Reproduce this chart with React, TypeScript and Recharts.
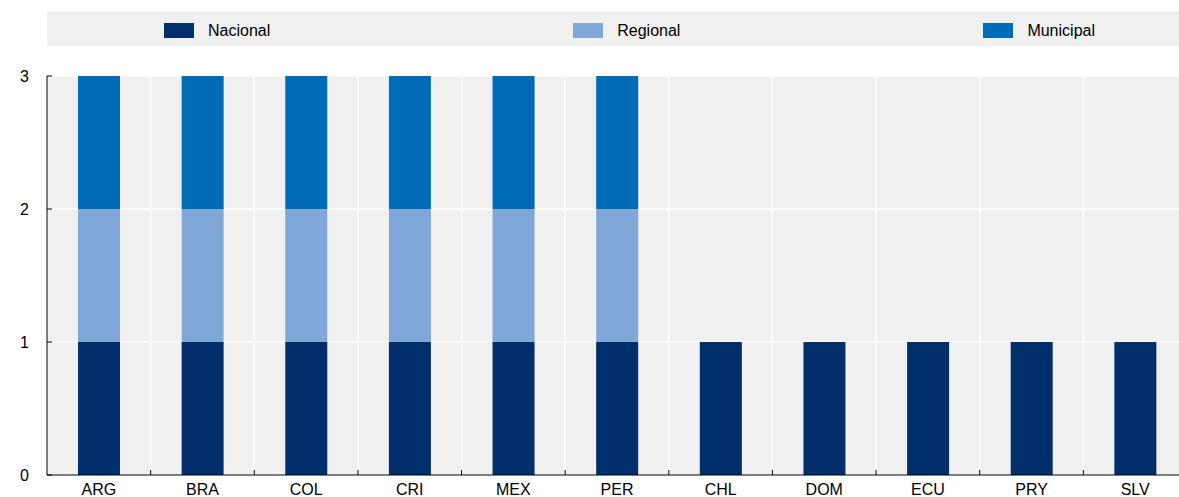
import React from "react";
import {
  BarChart,
  Bar,
  XAxis,
  YAxis,
  CartesianGrid,
  Legend,
  ReferenceLine,
} from "recharts";

const countries = ["ARG", "BRA", "COL", "CRI", "MEX", "PER", "CHL", "DOM", "ECU", "PRY", "SLV"];
const nacional = [1, 1, 1, 1, 1, 1, 1, 1, 1, 1, 1];
const regional = [1, 1, 1, 1, 1, 1, 0, 0, 0, 0, 0];
const municipal = [1, 1, 1, 1, 1, 1, 0, 0, 0, 0, 0];
const yTicks = [0, 1, 2, 3];

const series = [
  { key: "nacional", name: "Nacional", color: "#002F6C" },
  { key: "regional", name: "Regional", color: "#7FA8D9" },
  { key: "municipal", name: "Municipal", color: "#006BB6" },
];

const data = countries.map((c, i) => ({
  country: c,
  nacional: nacional[i],
  regional: regional[i],
  municipal: municipal[i],
}));

const FONT = "'Liberation Sans', Arial, sans-serif";
const TICK_MARGIN = 9;

const LegendBox = () => (
  <div
    style={{
      display: "flex",
      justifyContent: "space-between",
      alignItems: "center",
      height: 35,
      background: "#F0F0F0",
      paddingLeft: 117,
      paddingRight: 91,
      paddingTop: 4,
      boxSizing: "border-box",
      fontFamily: FONT,
      fontSize: 16,
      color: "#000",
    }}
  >
    {series.map((s) => (
      <div key={s.key} style={{ display: "flex", alignItems: "center" }}>
        <span style={{ width: 30, height: 15, background: s.color, marginRight: 14 }} />
        <span>{s.name}</span>
      </div>
    ))}
  </div>
);

// country label plus a small inward tick at the boundary on its right
const CountryTick = (props: any) => {
  const { x, y, payload } = props;
  const half = payload && payload.offset ? payload.offset : 0;
  const axisY = y - TICK_MARGIN;
  return (
    <g>
      <line x1={x + half} x2={x + half} y1={axisY} y2={axisY - 5} stroke="#000" />
      <text x={x} y={y} dy="0.71em" textAnchor="middle" fill="#000" fontSize={16}>
        {payload.value}
      </text>
    </g>
  );
};

export default function App() {
  return (
    <div
      style={{
        position: "fixed",
        left: 0,
        top: 0,
        width: 1179,
        height: 497,
        overflow: "hidden",
        background: "#fff",
      }}
    >
      <BarChart
        width={1187}
        height={505}
        data={data}
        margin={{ top: 41, right: 0, bottom: 0, left: 0 }}
        style={{ fontFamily: FONT }}
      >
        <CartesianGrid
          vertical={false}
          fill="#F0F0F0"
          stroke="#FFFFFF"
          strokeWidth={1.5}
        />
        {countries.slice(1).map((c) => (
          <ReferenceLine
            key={c}
            x={c}
            position="start"
            stroke="#FFFFFF"
            strokeWidth={1.5}
          />
        ))}
        <Legend
          verticalAlign="top"
          content={() => <LegendBox />}
          wrapperStyle={{ top: 11, left: 47, width: 1139, height: 35 }}
        />
        <XAxis
          dataKey="country"
          stroke="#000"
          axisLine={{ stroke: "#000", strokeWidth: 1 }}
          tickLine={false}
          tickSize={0}
          tickMargin={TICK_MARGIN}
          interval={0}
          tick={<CountryTick />}
        />
        <YAxis
          width={47}
          domain={[0, 3]}
          ticks={yTicks}
          stroke="#000"
          tickSize={-5}
          tickMargin={23}
          axisLine={{ stroke: "#000", strokeWidth: 1 }}
          tickLine={{ stroke: "#000" }}
          tick={{ fill: "#000", fontSize: 16 }}
        />
        {series.map((s) => (
          <Bar
            key={s.key}
            dataKey={s.key}
            name={s.name}
            stackId="a"
            fill={s.color}
            barSize={42}
            isAnimationActive={false}
          />
        ))}
      </BarChart>
    </div>
  );
}
